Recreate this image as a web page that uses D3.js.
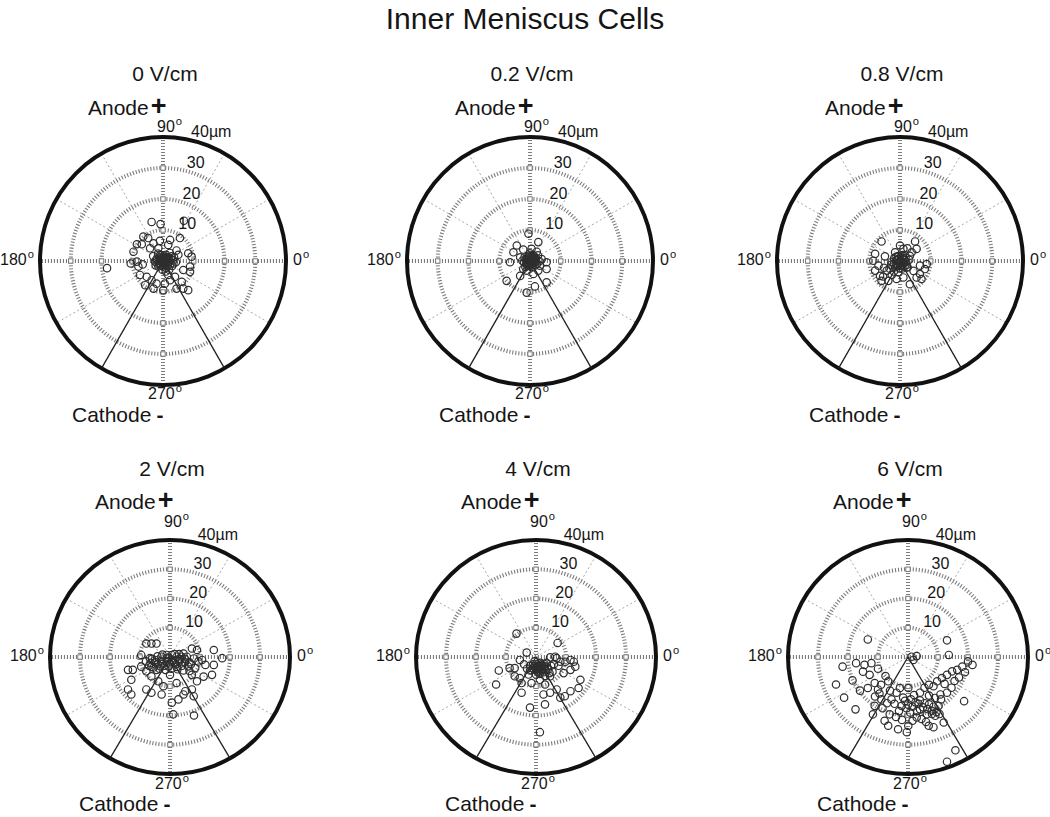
<!DOCTYPE html>
<html><head><meta charset="utf-8">
<script src="https://cdn.jsdelivr.net/npm/d3@7"></script>
<style>
body{margin:0;background:#fff}
svg{display:block}
text{font-family:"Liberation Sans",Arial,Helvetica,sans-serif;fill:#151515}
</style>
</head><body>
<svg id="chart" width="1050" height="817"></svg>
<script>
// ---------- data ----------
const chartTitle = "Inner Meniscus Cells";
const fieldLabels = ["0 V/cm", "0.2 V/cm", "0.8 V/cm", "2 V/cm", "4 V/cm", "6 V/cm"];
const ringTicks = [10, 20, 30, 40];
const ringLabels = ["10", "20", "30", "40µm"];
const spokeAngles = [0, 30, 60, 90, 120, 150];
const angleLabels = ["0", "90", "180", "270"];
const sectorAngles = [240, 300];
const rMax = 40;

// cell displacement end points, µm (x = toward 0°, y = toward 90° / anode)
const cells0 = [[-3.7,12.6],[-0.8,11.9],[6.8,13.0],[-6.4,7.9],[-4.8,7.4],[-8.5,5.4],[-6.9,5.4],[-3.1,5.7],[-1.0,6.5],[2.3,6.8],[5.5,7.4],[1.7,5.2],[-4.2,4.1],[-1.5,4.1],[-9.6,3.0],[8.2,2.5],[9.3,1.4],[-10.5,-0.8],[-8.5,-0.2],[-6.6,-1.1],[-8.0,-1.8],[-7.5,-4.5],[-5.3,-5.1],[-3.7,-6.2],[-5.8,-7.8],[-2.1,-7.3],[0.6,-7.3],[2.3,-6.2],[6.6,-2.9],[8.8,-1.8],[8.8,-3.5],[6.1,-6.7],[6.6,-8.9],[8.2,-9.4],[4.4,-8.9],[0.1,-9.4],[-3.1,-8.9],[1.7,-4.5],[3.9,-5.1],[-18.2,-2.3],
 [0,0],[0.6,0.8],[-0.8,0.5],[1.2,-0.3],[-1.3,-0.6],[0.3,-1.2],[1.8,0.9],[-2.0,0.8],[2.4,-1.0],[-0.5,1.8],[1.0,2.0],[-1.5,-1.8],[0.8,-2.2],[2.8,1.5],[-2.6,-0.2],[3.2,0.2],[-0.2,-2.8],[1.6,-1.6],[-1.0,-1.0],[0.4,0.3],[2.2,2.6],[-1.6,2.4],[3.6,1.2],[-0.4,-0.4],[1.4,0.4],[-2.4,-1.4],[3.0,-1.6],[0.9,-3.4],[-1.2,1.2],[4.2,-0.4],[-3.2,1.6],[2.0,-2.8],[5.0,2.0],[4.4,3.4],
 [0.2,0.6],[-0.6,-0.2],[0.9,-0.9],[-0.3,1.1],[1.5,1.3],[-1.1,0.1],[0.5,-0.6],[-0.7,-1.4],[2.0,0.2],[1.1,1.0],[-1.8,-0.9],[0.0,-1.8],[2.6,0.6],[-0.9,2.0],[1.9,-0.4],[0.6,1.4],[-2.2,0.3],[3.4,-0.8],[0.1,-0.8],[-0.4,0.7]];
const cells02 = [[-0.5,8.8],[2.7,6.1],[-4.3,5.0],[-2.2,3.7],[-5.4,2.8],[0.5,3.9],[2.2,3.0],[-6.5,-0.4],[-3.2,1.2],[3.8,0.6],[5.4,-0.4],[5.4,-2.6],[3.2,-1.5],[-1.1,-3.1],[1.1,-4.2],[2.7,-3.1],[-7.6,-6.4],[-3.2,-4.8],[5.4,-6.9],[1.6,-8.2],[-1.1,-10.2],
 [0,0],[0.8,0.6],[-0.9,0.4],[1.4,-0.5],[-1.2,-0.9],[0.2,-1.3],[1.9,1.0],[-1.8,1.1],[2.3,-0.9],[-0.4,1.7],[0.9,1.9],[-1.5,-1.9],[0.7,-2.1],[-2.5,0.1],[0.3,0.4],[-0.6,-0.6],[1.2,0.2],[2.6,1.8],[-2.2,-2.6],[3.1,-0.1],[0.0,2.5],[-0.3,-1.0],
 [0.4,-0.4],[-0.5,0.2],[1.0,1.1],[-1.0,-0.3],[0.6,-0.9],[-0.2,0.9],[1.6,0.5],[-1.4,0.6],[0.1,-1.7],[1.7,-1.4],[-0.8,-1.6],[0.5,1.3],[2.0,-0.2],[-1.9,-0.5],[0.9,-0.2],[-0.1,0.1],[1.3,1.6],[-0.6,1.2]];
const cells08 = [[-6.0,6.3],[0,5.0],[2.4,4.1],[4.9,6.3],[5.4,3.9],[3.8,2.8],[-1.6,2.8],[-4.9,1.5],[-8.1,2.3],[-8.7,0.1],[-7.0,-1.5],[-8.1,-3.1],[-6.5,-4.8],[-4.3,-3.1],[-2.7,-4.5],[-1.1,-5.8],[-3.8,-6.4],[1.1,-5.3],[3.2,-7.5],[6.5,-4.2],[8.1,-2.6],[8.7,-1.0],[6.5,-1.5],[7.0,-5.8],[5.4,-5.3],[2.2,-2.1],[-6.0,-6.4],[1.1,3.9],[3.2,1.7],
 [0,0],[0.7,0.7],[-0.8,0.3],[1.3,-0.6],[-1.1,-1.0],[0.3,-1.4],[1.8,1.1],[-1.9,0.9],[2.2,-1.2],[-0.6,1.6],[1.0,1.9],[-1.6,-2.0],[0.8,-2.4],[-2.7,-0.3],[0.2,0.3],[-0.3,-0.5],[1.5,0.3],[-2.4,-1.8],[3.0,0.4],[-3.4,-2.4],[-5.2,-2.2],[-5.5,-5.0],[-2.0,-3.4],[4.4,-3.2],[-0.6,-3.6],
 [0.4,-0.3],[-0.4,0.6],[0.9,-1.1],[-1.3,0.2],[1.2,0.9],[-0.1,-0.9],[2.0,-0.3],[-2.0,-0.9],[0.6,1.2],[-0.9,-1.7],[1.5,-1.8],[-1.4,1.3],[0.0,-2.3],[2.5,-2.0],[-2.9,-1.2],[0.3,0.0]];
const cells2 = [[-7.9,4.6],[-6.2,4.6],[-4.5,4.6],[7.3,2.9],[9.0,2.4],[14.6,2.4],[17.4,-0.4],[-9.6,0.7],[-6.7,-0.4],[-2.8,0.1],[-1.1,0.7],[0.6,0.7],[2.2,0.1],[3.9,0.1],[5.6,0.1],[10.7,-1.0],[11.8,-2.7],[14.6,-2.7],[14.0,-6.1],[11.2,-6.7],[8.4,-3.8],[7.3,-6.1],[9.0,-8.3],[-14.0,-4.4],[-12.4,-4.4],[-12.9,-7.8],[-9.6,-3.3],[-7.9,-4.9],[-4.5,-4.4],[-6.2,-6.6],[-14.0,-11.1],[-12.9,-12.8],[-7.9,-11.1],[-6.2,-12.2],[-2.2,-10.0],[-2.8,-12.8],[0.6,-15.6],[2.8,-14.5],[4.5,-12.8],[5.1,-11.7],[2.2,-8.9],[7.9,-13.4],[7.3,-11.1],[1.1,-19.6],[8.0,-20.0],[0,-6.1],[-3.9,-8.3],
 [-8,-1.5],[-6.5,-2.0],[-5,-1.0],[-4,-2.5],[-3,-1.5],[-2,-3],[-1,-1.5],[0,-2.5],[1,-1],[2,-2.5],[3,-1.5],[4,-3],[5,-1.8],[6,-3.2],[-7,-3],[-5.5,-3.6],[-3.5,-4],[-1.5,-4.4],[0.5,-4],[2.5,-4.2],[4.5,-4.6],[6.5,-4.8],[-2.5,0.8],[1.5,1.0],[3,1],[4.5,1.2],[-0.5,-0.2],[2.8,-0.8],[-4.2,0.2],[-6,-0.6],[8,-0.5],[9.5,-1.5],
 [-1,-0.5],[0.5,-1.5],[1.5,-2],[-2.5,-2.2],[3.5,-0.8],[-0.5,-3.2],[5,-0.6],[-4.8,-1.8],[6.5,-1.8],[-6.2,-3.4],[2.2,-3.4],[4,-1.8],[-3.2,-3.2],[7,-2.5]];
const cells4 = [[-6.5,8.0],[7.2,4.8],[-3.1,1.5],[-5.4,-1.0],[-12.4,-4.6],[-8.8,-3.8],[-7.1,-3.8],[-7.1,-6.6],[-13.3,-9.4],[-5.4,-7.2],[-4.8,-8.9],[-1.5,-8.9],[1.3,-7.8],[3.0,-9.4],[4.7,-6.6],[6.9,-0.4],[8.1,-1.6],[9.8,-1.6],[11.5,-1.0],[12.6,-1.6],[13.1,-3.3],[4.7,-0.1],[6.4,0.1],[9.2,-5.5],[11.5,-4.4],[14.8,-7.8],[14.2,-10.6],[11.5,-11.7],[9.6,-13.4],[8.1,-13.9],[6.9,-11.1],[4.7,-12.2],[2.5,-12.8],[-4.8,-12.2],[3.0,-16.2],[-2.0,-17.3],[1.3,-25.7],
 [-2,-3],[-1,-2.5],[0,-3.5],[1,-3],[2,-4],[3,-3.2],[4,-4.2],[-1.5,-4.5],[0.5,-5],[2.5,-5.2],[-3,-4],[5,-3],[1.5,-2],[3.5,-2],[-0.5,-1.5],[6,-2.5],[7.5,-3],[-4,-2.5],[0,-6],[3,-6.5],[5.5,-5],[-2.5,-6],[1,-4.2],[2,-3],
 [0.5,-3.5],[1.5,-3.8],[2.5,-3.5],[-0.5,-3.2],[1,-4.8],[2,-4.6],[3.2,-4.6],[0,-4.4],[1.8,-2.6],[-1,-3.8],[2.8,-2.4],[0.8,-2.2],[3.8,-3.6],[-2,-4.6],[4.5,-5.5],[1.2,-5.8]];
const cells6 = [[-13.4,6.0],[13.0,5.7],[13.6,0.7],[2.9,0.3],[1.8,-1.0],[1.2,0.1],[-21.8,-3.3],[-17.3,-2.1],[-14.5,-2.7],[-12.2,-2.1],[-24.0,-9.4],[-21.3,-13.9],[-17.5,-17.9],[-12.8,-6.1],[-13.4,-10.6],[-11.1,-8.9],[-10.0,-11.1],[-6.6,-8.3],[-8.9,-14.5],[-11.1,-16.7],[-11.7,-19.6],[-7.8,-21.8],[-6.6,-23.5],[-3.3,-24.7],[-0.4,-25.7],[0.1,-23.5],[2.9,-20.7],[6.9,-23.5],[8.5,-24.0],[9.1,-20.1],[10.2,-16.7],[11.9,-22.4],[15.8,-31.9],[13.0,-35.8],[18.7,-15.1],[21.5,-2.7],[18.1,-3.3],[16.4,-4.4],[14.7,-4.9],[13.0,-6.1],[11.3,-7.2],[9.7,-8.3],[10.8,-12.8],[13.0,-12.2],[-5.5,-14.5],[-3.8,-12.2],[-1.6,-13.9],[-2.1,-16.7],[0.7,-19.0],[4.0,-17.9],[6.3,-19.6],[7.9,-18.4],[4.0,-12.2],[-2.7,-10.6],[0.1,-10.6],[-6.1,-19.6],
 [-1,-15],[1,-14.5],[2.5,-15.5],[4,-14.8],[5.5,-15.8],[7,-16.2],[8.5,-17],[-0.5,-17.5],[1.5,-17],[3,-18.5],[5,-17.2],[6.5,-17.8],[8,-19.5],[9.5,-18.8],[2,-13],[3.5,-16],[0,-16.2],[-3,-18.5],[-4.5,-16],[-7,-15.8],[-8.5,-17.5],[-9.5,-12.5],[-6,-11.5],[-4,-20.5],[-2,-21.5],[1.5,-21.8],[4.5,-21.2],[6,-22.2],[10.5,-19.5],[11,-14.5],[9,-14],[7,-13.2],[5.5,-10.5],[7,-9.5],[8.5,-10],[-11,-13.5],[-9,-9.5],[-15,-5],[-16,-11.5],[-18.5,-8],[-10,-4],[-7.5,-6.5],[12.2,-9.2],[15.5,-8.2],[17,-7.0],[19,-5.2],[20,-1.5],[14.5,-10.5]];
const panelCells = [cells0, cells02, cells08, cells2, cells4, cells6];

// ---------- layout ----------
const rows = [
  {cy: 261, rx: 123, ry: 124, titleY: 81, anodeY: 115, topY: 132, botY: 399, cathY: 422, cxs: [163, 530, 900]},
  {cy: 657, rx: 120, ry: 117, titleY: 476, anodeY: 509, topY: 527, botY: 789, cathY: 811, cxs: [170, 536, 908]}
];

const svg = d3.select("#chart");
svg.append("text").attr("x", 525).attr("y", 29).attr("text-anchor", "middle")
  .attr("font-size", 30).text(chartTitle);

const rad = d => d * Math.PI / 180;

function degText(sel, label, fs) {
  sel.append("tspan").text(label);
  sel.append("tspan").attr("font-size", fs * 0.7).attr("dy", -fs * 0.45).attr("dx", 1).text("o");
}

fieldLabels.forEach((lab, i) => {
  const row = rows[Math.floor(i / 3)];
  const cx = row.cxs[i % 3], cy = row.cy;
  const x = d3.scaleLinear().domain([-rMax, rMax]).range([cx - row.rx, cx + row.rx]);
  const y = d3.scaleLinear().domain([-rMax, rMax]).range([cy + row.ry, cy - row.ry]);
  const g = svg.append("g");

  // diagonal spokes (thin dotted)
  g.selectAll("line.sp").data(spokeAngles.filter(a => a % 90 !== 0)).join("line")
    .attr("x1", a => x(rMax * Math.cos(rad(a)))).attr("y1", a => y(rMax * Math.sin(rad(a))))
    .attr("x2", a => x(-rMax * Math.cos(rad(a)))).attr("y2", a => y(-rMax * Math.sin(rad(a))))
    .attr("stroke", "#a8a8a8").attr("stroke-width", 1).attr("stroke-dasharray", "2 2.5");
  // rings (heavy dotted)
  g.selectAll("ellipse.ring").data(ringTicks.slice(0, -1)).join("ellipse")
    .attr("cx", x(0)).attr("cy", y(0))
    .attr("rx", v => x(v) - x(0)).attr("ry", v => y(0) - y(v))
    .attr("fill", "none").attr("stroke", "#7c7c7c").attr("stroke-width", 4)
    .attr("stroke-dasharray", "1.1 1.9");
  // main axes (heavy dotted)
  g.selectAll("line.ax").data(spokeAngles.filter(a => a % 90 === 0)).join("line")
    .attr("x1", a => x(rMax * Math.cos(rad(a)))).attr("y1", a => y(rMax * Math.sin(rad(a))))
    .attr("x2", a => x(-rMax * Math.cos(rad(a)))).attr("y2", a => y(-rMax * Math.sin(rad(a))))
    .attr("stroke", "#7c7c7c").attr("stroke-width", 4).attr("stroke-dasharray", "1.1 1.9");
  // little squares where rings cross the axes
  const cross = [];
  ringTicks.slice(0, -1).forEach(v => [0, 90, 180, 270].forEach(a => cross.push([v * Math.cos(rad(a)), v * Math.sin(rad(a))])));
  g.selectAll("rect.cr").data(cross).join("rect")
    .attr("x", d => x(d[0]) - 2.2).attr("y", d => y(d[1]) - 2.2)
    .attr("width", 4.4).attr("height", 4.4).attr("fill", "#fff")
    .attr("stroke", "#777").attr("stroke-width", 1);
  // outer circle
  g.append("ellipse").attr("cx", x(0)).attr("cy", y(0))
    .attr("rx", x(rMax) - x(0)).attr("ry", y(0) - y(rMax))
    .attr("fill", "none").attr("stroke", "#111").attr("stroke-width", 4);
  // cathode sector lines
  g.selectAll("line.sec").data(sectorAngles).join("line")
    .attr("x1", x(0)).attr("y1", y(0))
    .attr("x2", a => x(rMax * Math.cos(rad(a)))).attr("y2", a => y(rMax * Math.sin(rad(a))))
    .attr("stroke", "#222").attr("stroke-width", 1.3);
  // cells
  g.selectAll("circle.cell").data(panelCells[i]).join("circle")
    .attr("cx", d => x(d[0])).attr("cy", d => y(d[1])).attr("r", 3.7)
    .attr("fill", "none").attr("stroke", "#2e2e2e").attr("stroke-width", 1.2);

  // ring labels
  g.selectAll("text.rl").data(ringTicks).join("text")
    .attr("x", (v) => x(0) + 11 + 0.139 * (x(v) - x(0)))
    .attr("y", (v) => y(0) - 0.99 * (y(0) - y(v)) - 1)
    .attr("font-size", 16)
    .text((v, k) => ringLabels[k]);

  // angle labels
  const fs = 16;
  const t0 = g.append("text").attr("x", x(rMax) + 7).attr("y", cy + 4).attr("font-size", fs);
  degText(t0, angleLabels[0], fs);
  const t90 = g.append("text").attr("x", cx - 6).attr("y", row.topY).attr("font-size", fs);
  degText(t90, angleLabels[1], fs);
  const t180 = g.append("text").attr("x", x(-rMax) - 6).attr("y", cy + 4).attr("font-size", fs).attr("text-anchor", "end");
  degText(t180, angleLabels[2], fs);
  const t270 = g.append("text").attr("x", cx - 15).attr("y", row.botY).attr("font-size", fs);
  degText(t270, angleLabels[3], fs);

  // titles and electrode labels
  g.append("text").attr("x", cx + 2).attr("y", row.titleY).attr("text-anchor", "middle")
    .attr("font-size", 21).text(lab);
  const an = g.append("text").attr("x", cx - 75).attr("y", row.anodeY).attr("font-size", 21);
  an.append("tspan").text("Anode");
  an.append("tspan").attr("dx", 2).attr("font-size", 27).attr("font-weight", "bold").text("+");
  const ca = g.append("text").attr("x", cx - 91).attr("y", row.cathY).attr("font-size", 21);
  ca.append("tspan").text("Cathode");
  ca.append("tspan").attr("dx", 5).attr("font-weight", "bold").text("-");
});
</script>
</body></html>
